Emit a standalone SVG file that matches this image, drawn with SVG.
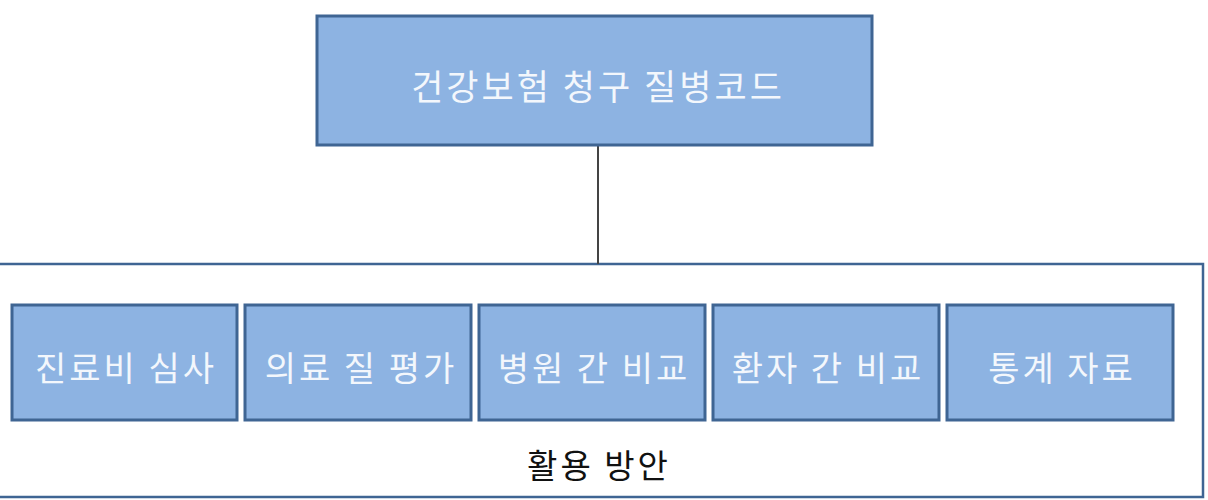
<svg xmlns="http://www.w3.org/2000/svg" width="1208" height="500" viewBox="0 0 1208 500">
<style>
.box{fill:#8DB3E2;stroke:#3F6593;stroke-width:3}
.cont{fill:#FFFFFF;stroke:#3F6593;stroke-width:2.5}
.lbl{font-family:"Noto Sans CJK KR","Noto Sans",sans-serif;fill:#F3F7FC;text-anchor:middle;dominant-baseline:central;letter-spacing:3px}
.cap{font-family:"Noto Sans CJK KR","Noto Sans",sans-serif;fill:#111111;text-anchor:middle;dominant-baseline:central;letter-spacing:3px}
</style>
<rect width="1208" height="500" fill="#FFFFFF"/>
<g id="container">
<rect class="cont" x="-5" y="264" width="1208" height="233"/>
<text class="cap" x="599" y="464" font-size="33">활용 방안</text>
</g>
<g id="connectors">
<line x1="598" y1="145" x2="598" y2="264" stroke="#444444" stroke-width="2"/>
</g>
<g id="root">
<rect class="box" x="317" y="16" width="555" height="129"/>
<text class="lbl" x="598" y="84" font-size="35">건강보험 청구 질병코드</text>
</g>
<g id="n1">
<rect class="box" x="12" y="305" width="225" height="115"/>
<text class="lbl" x="126" y="366" font-size="34">진료비 심사</text>
</g>
<g id="n2">
<rect class="box" x="245" y="305" width="226" height="115"/>
<text class="lbl" x="361" y="366" font-size="34">의료 질 평가</text>
</g>
<g id="n3">
<rect class="box" x="479" y="305" width="226" height="115"/>
<text class="lbl" x="594" y="366" font-size="34">병원 간 비교</text>
</g>
<g id="n4">
<rect class="box" x="713" y="305" width="226" height="115"/>
<text class="lbl" x="828" y="366" font-size="34">환자 간 비교</text>
</g>
<g id="n5">
<rect class="box" x="947" y="305" width="226" height="115"/>
<text class="lbl" x="1062" y="366" font-size="34">통계 자료</text>
</g>
</svg>
